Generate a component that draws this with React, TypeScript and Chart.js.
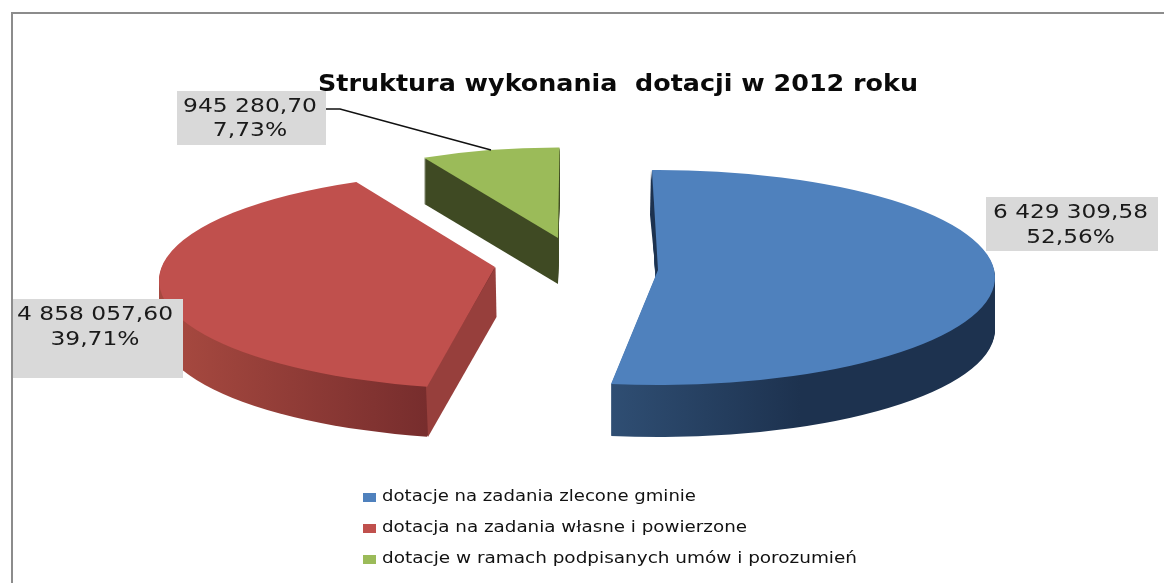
import React, { useEffect, useRef } from "react";
import { Chart, registerables } from "chart.js";

Chart.register(...registerables);

const titleText = "Struktura wykonania  dotacji w 2012 roku";
const categories = [
  "dotacje na zadania zlecone gminie",
  "dotacja na zadania własne i powierzone",
  "dotacje w ramach podpisanych umów i porozumień",
];
const seriesValues = [6429309.58, 4858057.6, 945280.7];
const valueLabels = ["6 429 309,58", "4 858 057,60", "945 280,70"];
const percentLabels = ["52,56%", "39,71%", "7,73%"];
const sliceColors = ["#4F81BD", "#C0504D", "#9BBB59"];

// 3D projection of each exploded slice (the library gives the angles)
const projection = [
  { ax: 658, ay: 270, cx: 658.5, cy: 277.5, rx: 336.5, ry: 107.5, shift: -0.6, depth: 52 },
  { ax: 495, ay: 267, cx: 499, cy: 280.5, rx: 340, ry: 108.6, shift: 3.5, depth: 50 },
  { ax: 558, ay: 238, cx: 558, cy: 238, rx: 290, ry: 90.5, shift: 0.8, depth: 46 },
];
const wallStops: [number, number, string][][] = [
  [[611, 0, "#2F4E73"], [800, 0, "#1D324F"]],
  [[183, 0, "#A5483F"], [427, 0, "#772D2D"]],
  [[420, 0, "#3F4A23"], [560, 0, "#3F4A23"]],
];
const labelBoxes = [
  { x: 986, y: 197, w: 172, h: 54, tx: 1070.5, l1: 213, l2: 238, tw: 155 },
  { x: 13, y: 299, w: 170, h: 79, tx: 95, l1: 315, l2: 340, tw: 156 },
  { x: 177, y: 91, w: 149, h: 54, tx: 250, l1: 107, l2: 131, tw: 134 },
];
const leaderPoints = [[326, 109], [340, 109], [491, 150]];
const legendRows = [
  { y: 497, w: 314 },
  { y: 528, w: 365 },
  { y: 559, w: 475 },
];

function fitText(ctx: CanvasRenderingContext2D, text: string, x: number, y: number, font: string, sx: number, color: string, align: CanvasTextAlign) {
  ctx.save();
  ctx.font = font;
  ctx.fillStyle = color;
  ctx.textAlign = align;
  ctx.textBaseline = "middle";
  ctx.translate(x, y);
  ctx.scale(sx, 1);
  ctx.fillText(text, 0, 0);
  ctx.restore();
}

const pie3d = {
  id: "pie3d",
  beforeDatasetsDraw(chart: any) {
    const ctx: CanvasRenderingContext2D = chart.ctx;
    const arcs = chart.getDatasetMeta(0).data;
    const trace = (i: number, dy: number) => {
      const p = projection[i];
      const s = (p.shift * Math.PI) / 180;
      ctx.beginPath();
      ctx.moveTo(p.ax, p.ay + dy);
      ctx.ellipse(p.cx, p.cy + dy, p.rx, p.ry, 0, arcs[i].startAngle + s, arcs[i].endAngle + s);
      ctx.closePath();
    };
    ctx.save();
    // frame
    ctx.fillStyle = "#8C8C8C";
    ctx.fillRect(11, 12, 2, 571);
    ctx.fillRect(11, 12, 1153, 2);
    [2, 1, 0].forEach((i) => {
      const p = projection[i];
      const g = ctx.createLinearGradient(wallStops[i][0][0], 0, wallStops[i][1][0], 0);
      g.addColorStop(0, wallStops[i][0][2]);
      g.addColorStop(1, wallStops[i][1][2]);
      ctx.fillStyle = g;
      for (let d = p.depth; d >= 1; d--) {
        trace(i, d);
        ctx.fill();
      }
    });
    // cut face of the red slice, lighter than the round wall
    ctx.fillStyle = "#973F3C";
    ctx.beginPath();
    ctx.moveTo(495.5, 267);
    ctx.lineTo(426, 387);
    ctx.lineTo(428, 437);
    ctx.lineTo(496.5, 317);
    ctx.closePath();
    ctx.fill();
    // dark sliver on the upper cut of the blue slice
    ctx.fillStyle = "#1D324F";
    ctx.beginPath();
    ctx.moveTo(651, 170);
    ctx.lineTo(650, 215);
    ctx.lineTo(656, 276);
    ctx.lineTo(660, 266);
    ctx.closePath();
    ctx.fill();
    arcs.forEach((arc: any, i: number) => {
      ctx.fillStyle = arc.options.backgroundColor;
      trace(i, 0);
      ctx.fill();
    });
    ctx.restore();
    return false;
  },
  afterDraw(chart: any) {
    const ctx: CanvasRenderingContext2D = chart.ctx;
    ctx.save();
    // leader line
    ctx.strokeStyle = "#111111";
    ctx.lineWidth = 1.5;
    ctx.beginPath();
    leaderPoints.forEach(([x, y], k) => (k ? ctx.lineTo(x, y) : ctx.moveTo(x, y)));
    ctx.stroke();
    // title
    const titleFont = "bold 23px 'DejaVu Sans'";
    ctx.font = titleFont;
    const tw = ctx.measureText(titleText).width;
    fitText(ctx, titleText, 318, 85, titleFont, 600 / tw, "#0a0a0a", "left");
    // data labels
    labelBoxes.forEach((b, i) => {
      ctx.fillStyle = "#D9D9D9";
      ctx.fillRect(b.x, b.y, b.w, b.h);
      const font = "19px 'DejaVu Sans'";
      ctx.font = font;
      const sx = b.tw / ctx.measureText(valueLabels[i]).width;
      fitText(ctx, valueLabels[i], b.tx, b.l1, font, sx, "#1a1a1a", "center");
      fitText(ctx, percentLabels[i], b.tx, b.l2, font, sx, "#1a1a1a", "center");
    });
    // legend
    legendRows.forEach((r, i) => {
      ctx.fillStyle = sliceColors[i];
      ctx.fillRect(363, r.y - 4, 13, 9);
      const font = "16px 'DejaVu Sans'";
      ctx.font = font;
      const sx = r.w / ctx.measureText(categories[i]).width;
      fitText(ctx, categories[i], 382, r.y, font, sx, "#111111", "left");
    });
    ctx.restore();
  },
};

export default function App() {
  const ref = useRef<HTMLCanvasElement>(null);
  useEffect(() => {
    if (!ref.current) return;
    const chart = new Chart(ref.current, {
      type: "pie",
      data: {
        labels: categories,
        datasets: [{ data: seriesValues, backgroundColor: sliceColors, borderWidth: 0 }],
      },
      options: {
        responsive: false,
        animation: false,
        rotation: -0.5,
        plugins: { legend: { display: false }, title: { display: false, text: titleText }, tooltip: { enabled: false } },
      },
      plugins: [pie3d],
    } as any);
    return () => chart.destroy();
  }, []);
  return (
    <div style={{ position: "fixed", left: 0, top: 0, width: 1164, height: 583, background: "#fff" }}>
      <canvas ref={ref} width={1164} height={583} style={{ display: "block" }} />
    </div>
  );
}
